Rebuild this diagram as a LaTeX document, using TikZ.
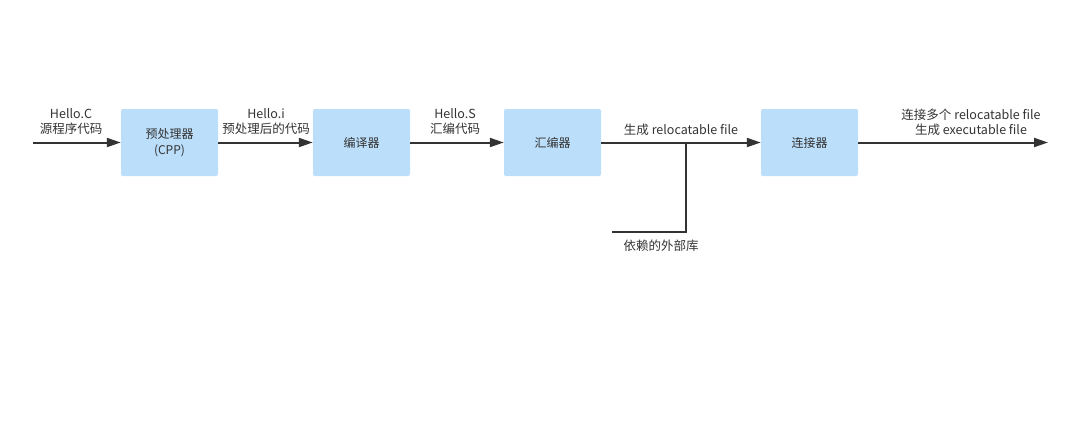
\documentclass[tikz,border=0pt]{standalone}
\usepackage{fontspec}
\setmainfont{Noto Sans CJK SC}
\usepackage{tikz}
\usetikzlibrary{arrows.meta}
\definecolor{kutuMavi}{HTML}{BBDEFA}
\definecolor{yaziGri}{HTML}{333333}
\tikzset{
  asama/.style={fill=kutuMavi,rounded corners=2pt,minimum width=97pt,minimum height=67pt,inner sep=0pt,align=center,text=yaziGri,font=\fontsize{12}{16}\selectfont},
  ok/.style={yaziGri,line width=2pt,-{Triangle[length=14pt,width=9pt]}},
  etiket/.style={text=yaziGri,align=center,inner sep=0pt,font=\fontsize{12.5}{15}\selectfont}
}

\begin{document}
\begin{tikzpicture}[x=1pt,y=-1pt]
\useasboundingbox (0,0) rectangle (1073,431);
\node[asama] (cpp) at (169.5,142.5) {预处理器\\(CPP)};
\node[asama] (derleyici) at (361.5,142.5) {编译器};
\node[asama] (montajci) at (552.5,142.5) {汇编器};
\node[asama] (baglayici) at (809.5,142.5) {连接器};
\coordinate (giris) at (33,142.5);
\coordinate (cikis) at (1048,142.5);
\coordinate (kutuphane) at (612,232);
\coordinate (dugum) at (686,142.5);
\draw[ok] (giris) -- (cpp);
\draw[ok] (cpp) -- (derleyici);
\draw[ok] (derleyici) -- (montajci);
\draw[ok] (montajci) -- (baglayici);
\draw[ok] (baglayici) -- (cikis);
\draw[yaziGri,line width=2pt] (kutuphane) -| (dugum);
\node[etiket] (kaynak) at (71,122) {Hello.C\\源程序代码};
\node[etiket] (onislem) at (266,122) {Hello.i\\预处理后的代码};
\node[etiket] (montaj) at (455,122) {Hello.S\\汇编代码};
\node[etiket] (yerlesir) at (681,130) {生成 relocatable file};
\node[etiket] (calisir) at (971,122) {连接多个 relocatable file\\生成 executable file};
\node[etiket] (dis) at (661,246) {依赖的外部库};
\end{tikzpicture}
\end{document}
